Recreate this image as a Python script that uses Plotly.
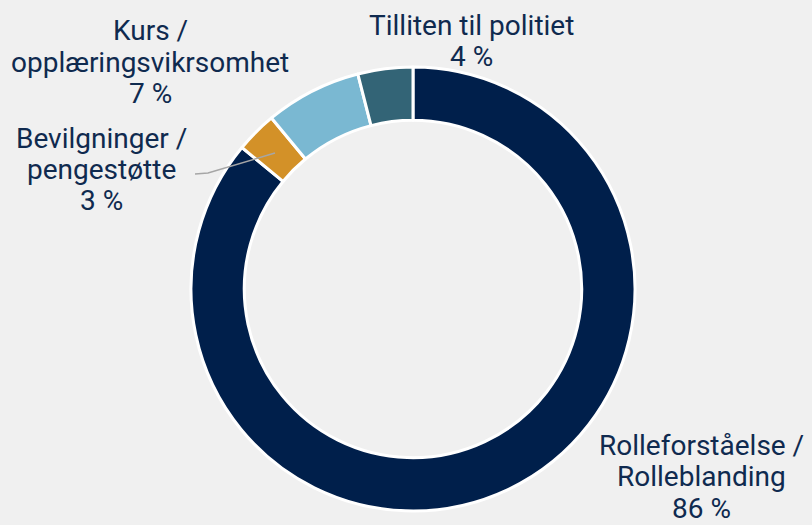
import plotly.graph_objects as go

# Data
kategorier = ["Rolleforståelse /<br>Rolleblanding", "Bevilgninger /<br>pengestøtte",
              "Kurs /<br>opplæringsvikrsomhet", "Tilliten til politiet"]
andeler = [86, 3, 7, 4]
farger = ["#001F4B", "#D39128", "#7AB8D2", "#336476"]

W, H = 812, 525
BG = "#F0F0F0"
TEKST = "#0F2A4F"

# Etikettposisjoner (piksler: x-sentrum, y-sentrum for første linje)
etikett_pos = [(701, 445), (101, 138), (150, 31), (471, 25)]
LINJEAVSTAND = 31.5

cx, cy, r = 413, 289, 222

fig = go.Figure(go.Pie(
    labels=kategorier,
    values=andeler,
    hole=0.76,
    sort=False,
    direction="clockwise",
    rotation=0,
    marker=dict(colors=farger, line=dict(color="white", width=3)),
    textinfo="none",
    hoverinfo="label+percent",
    domain=dict(x=[(cx - r) / W, (cx + r) / W], y=[1 - (cy + r) / H, 1 - (cy - r) / H]),
))

for navn, verdi, (x, y) in zip(kategorier, andeler, etikett_pos):
    linjer = navn.split("<br>") + [f"{verdi} %"]
    for i, tekst in enumerate(linjer):
        fig.add_annotation(
            x=x / W, y=1 - (y + i * LINJEAVSTAND) / H, xref="paper", yref="paper",
            text=tekst, showarrow=False, borderpad=0,
            font=dict(family="Roboto", size=28, color=TEKST),
            align="center", xanchor="center", yanchor="middle",
        )

# Ledelinje for Bevilgninger
linje = [(195, 174), (208, 173), (275, 153)]
sti = "M " + " L ".join(f"{x / W} {1 - y / H}" for x, y in linje)
fig.add_shape(type="path", path=sti, xref="paper", yref="paper",
              line=dict(color="#A6A6A6", width=1.5))

fig.update_layout(
    width=W, height=H,
    margin=dict(l=0, r=0, t=0, b=0),
    paper_bgcolor=BG, plot_bgcolor=BG,
    showlegend=False,
)

fig.write_html("out.html", config={"displayModeBar": False},
               post_script="document.body.style.margin='0';document.body.style.background='%s';" % BG)
